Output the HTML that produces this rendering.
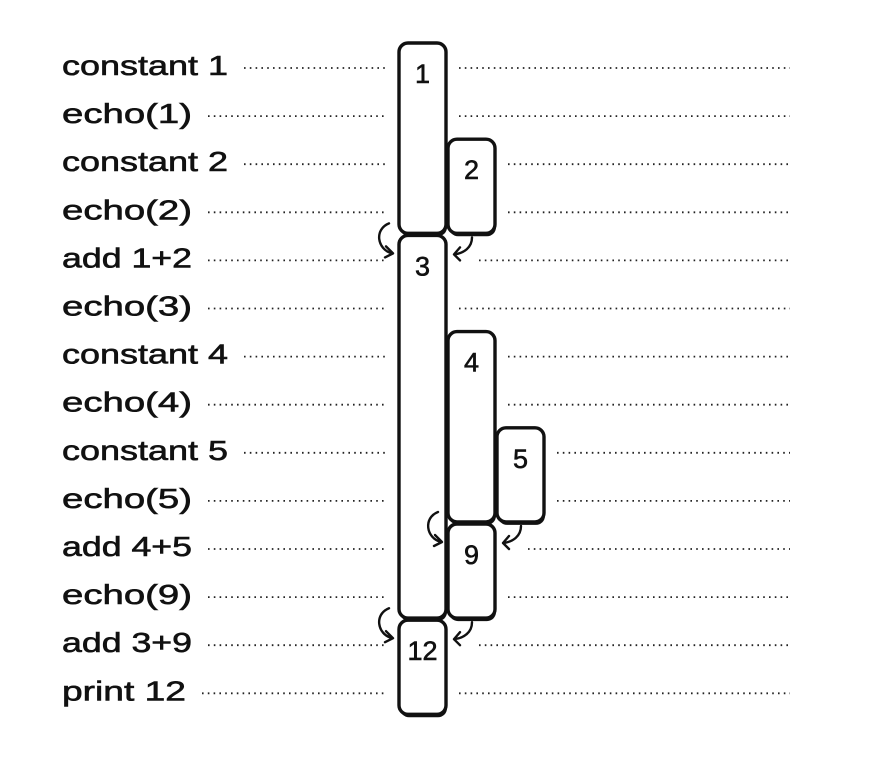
<!DOCTYPE html>
<html><head><meta charset="utf-8"><style>
html,body{margin:0;padding:0;background:#fff;}
svg{display:block;}
text{font-family:"Liberation Sans",sans-serif;fill:#111;}
</style></head><body>
<svg id="chart" width="890" height="759" viewBox="0 0 890 759" xmlns="http://www.w3.org/2000/svg"></svg>
<script>
const labels = ["constant 1","echo(1)","constant 2","echo(2)","add 1+2","echo(3)","constant 4","echo(4)","constant 5","echo(5)","add 4+5","echo(9)","add 3+9","print 12"];
const boxValues = ["1","2","3","4","5","9","12"];
const boxStartRow = [0,2,4,6,8,10,12];
const boxEndRow = [3,3,11,9,9,11,13];
const boxColumn = [0,1,0,1,2,1,0];
const arrowRows = [4,10,12];
const arrowCols = [0,1,0];

const NS="http://www.w3.org/2000/svg";
const svg=document.getElementById('chart');
function rowY(i){return 65+48.1*i;}
function colX(c){return 399+49*c;}
const BW=47;
function mk(tag,attrs,parent){const e=document.createElementNS(NS,tag);for(const k in attrs)e.setAttribute(k,attrs[k]);(parent||svg).appendChild(e);return e;}

function labelWidth(s){
  if(s.startsWith("constant"))return 166;
  if(s.startsWith("print"))return 124;
  return 130;
}
labels.forEach((s,i)=>{
  const y=rowY(i);
  const w=labelWidth(s);
  const t=mk('text',{x:62,y:y+10,'font-size':28,textLength:w,lengthAdjust:'spacingAndGlyphs',stroke:'#111','stroke-width':0.6});
  t.textContent=s;
  
  
  let right=colX(0)+BW;
  boxValues.forEach((v,b)=>{if(i>=boxStartRow[b]&&i<=boxEndRow[b])right=Math.max(right,colX(boxColumn[b])+BW);});
  const extra=arrowRows.includes(i)?33:13;
  const l1=mk('line',{x1:62+w+16,y1:y+3,x2:385,y2:y+3,stroke:'#222','stroke-width':1.8,'stroke-dasharray':'1.6 4.2'});
  
  
  const l2=mk('line',{x1:right+extra,y1:y+3,x2:790,y2:y+3,stroke:'#222','stroke-width':1.8,'stroke-dasharray':'1.6 4.2'});
  
  
});
boxValues.forEach((v,b)=>{
  const x=colX(boxColumn[b]);
  const top=rowY(boxStartRow[b])-22;
  const bot=rowY(boxEndRow[b])+24;
  mk('rect',{x:x+1,y:top+3,width:BW,height:bot-top,rx:9,fill:'#111'});
  const r=mk('rect',{x:x,y:top,width:BW,height:bot-top,rx:9,fill:'#fff',stroke:'#111','stroke-width':3.4});
  
  
  const t=mk('text',{x:x+BW/2,y:top+40,'font-size':27,'text-anchor':'middle',stroke:'#111','stroke-width':0.6});
  t.textContent=v;
  
  
});
arrowRows.forEach((r,k)=>{
  const y=rowY(r);
  const x=colX(arrowCols[k]);
  const g=mk('g',{fill:'none',stroke:'#111','stroke-width':2.4,'stroke-linecap':'round','stroke-linejoin':'round'});
  
  
  mk('path',{d:`M${x-10} ${y-34} C${x-25} ${y-28} ${x-22} ${y-8} ${x-7} ${y-4} M${x-13} ${y-11} L${x-6} ${y-4} L${x-14} ${y}`},g);
  const rx=x+BW+8;
  mk('path',{d:`M${rx+18} ${y-20} C${rx+18} ${y-10} ${rx+10} ${y-4} ${rx} ${y-3} M${rx+6} ${y-10} L${rx} ${y-3} L${rx+6} ${y+3}`},g);
});
</script>
</body></html>
